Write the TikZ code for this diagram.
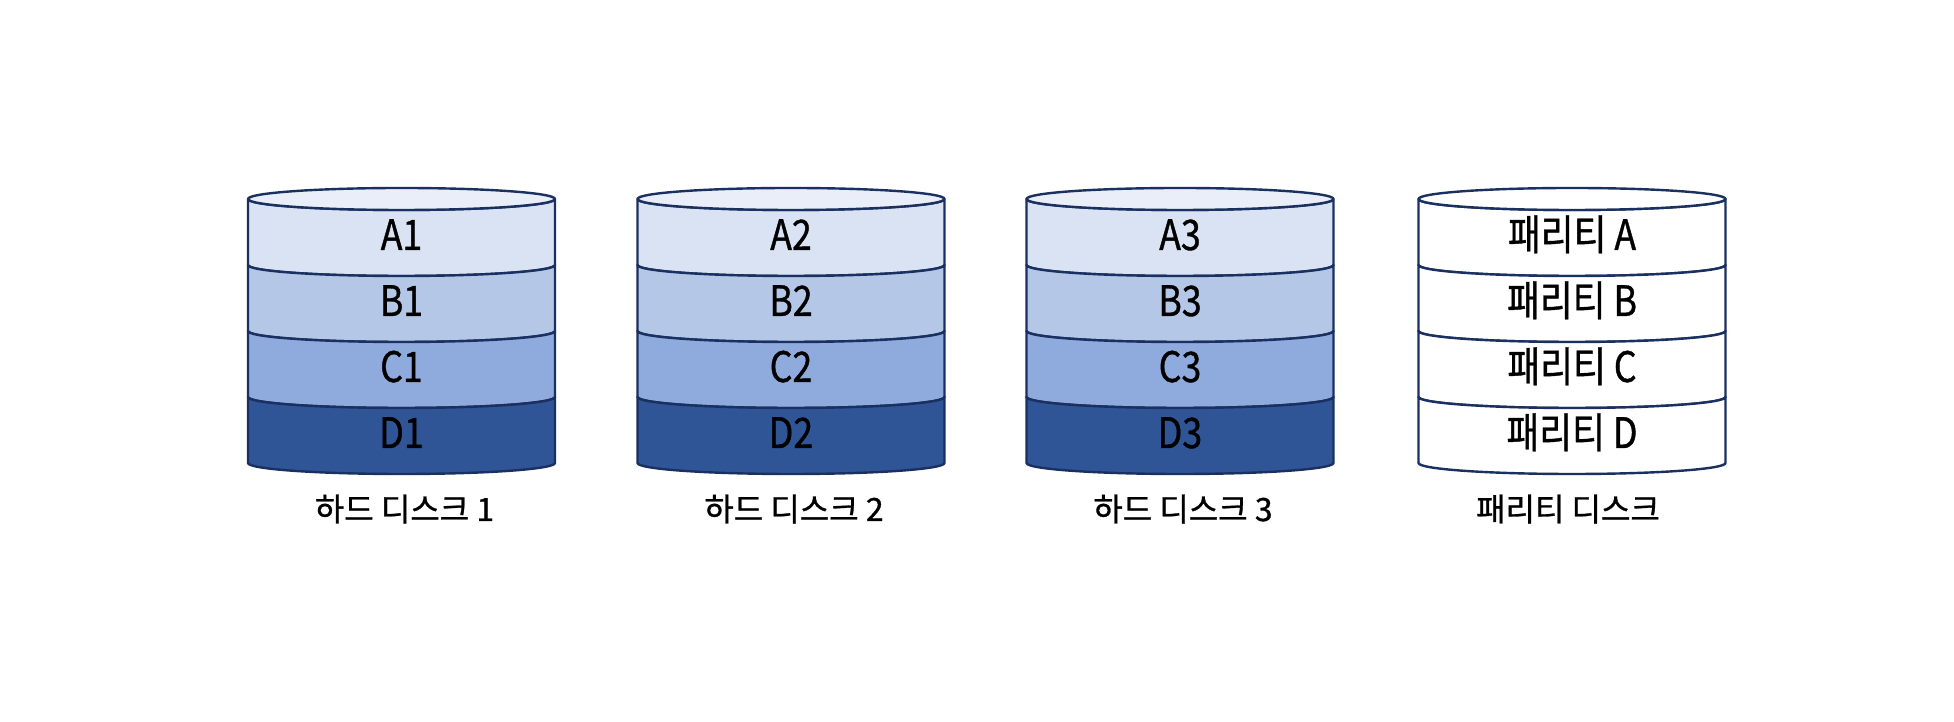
\documentclass[tikz,border=0pt]{standalone}
\usepackage{fontspec}
\newfontfamily\krfont[FakeBold=0.9]{Noto Sans CJK KR}
\newfontfamily\krnarrow[FakeStretch=0.85,FakeBold=0.9]{Noto Sans CJK KR}
\definecolor{cylline}{HTML}{1A3060}
\definecolor{bandA}{HTML}{DAE3F3}
\definecolor{bandB}{HTML}{B4C7E7}
\definecolor{bandC}{HTML}{8FAADC}
\definecolor{bandD}{HTML}{2F5597}
\definecolor{topface}{HTML}{E9EEF8}
\newcommand\diskband[4]{%
  \path[edge,fill=#4] (#1-153.5,#2) arc[start angle=180,end angle=360,x radius=153.5,y radius=11]
    -- (#1+153.5,#3) arc[start angle=0,end angle=-180,x radius=153.5,y radius=11] -- cycle;}
\newcommand\disktop[2]{%
  \path[edge,fill=#2] (#1,523) ellipse[x radius=153.5,y radius=11];}
\begin{document}
\begin{tikzpicture}[x=1pt,y=1pt,
  edge/.style={draw=cylline,line width=2.4pt,line join=round},
  lbl/.style={font=\krnarrow\fontsize{42}{48}\selectfont,text=black,inner sep=0pt,text height=30pt,text depth=0pt,anchor=center},
  disklabel/.style={font=\krfont\fontsize{32}{38}\selectfont,text=black,inner sep=0pt,text height=24pt,text depth=0pt,anchor=center}]
\useasboundingbox (0,0) rectangle (1954,722);
\foreach \cx/\n in {401.5/1,791/2,1180/3}{
  \diskband{\cx}{523}{457}{bandA}
  \diskband{\cx}{457}{391}{bandB}
  \diskband{\cx}{391}{325}{bandC}
  \diskband{\cx}{325}{259}{bandD}
  \disktop{\cx}{topface}
  \node[lbl] (a\n) at (\cx,487) {A\n};
  \node[lbl] (b\n) at (\cx,421) {B\n};
  \node[lbl] (c\n) at (\cx,355) {C\n};
  \node[lbl] (d\n) at (\cx,289) {D\n};
  \node[disklabel] (dl\n) at (\cx+3,213) {하드 디스크 \n};
}
\def\px{1572}
\diskband{\px}{523}{457}{white}
\diskband{\px}{457}{391}{white}
\diskband{\px}{391}{325}{white}
\diskband{\px}{325}{259}{white}
\disktop{\px}{white}
\node[lbl] (pa) at (\px,487) {패리티 A};
\node[lbl] (pb) at (\px,421) {패리티 B};
\node[lbl] (pc) at (\px,355) {패리티 C};
\node[lbl] (pd) at (\px,289) {패리티 D};
\node[disklabel] (dlp) at (\px-4,213) {패리티 디스크};
\end{tikzpicture}
\end{document}
